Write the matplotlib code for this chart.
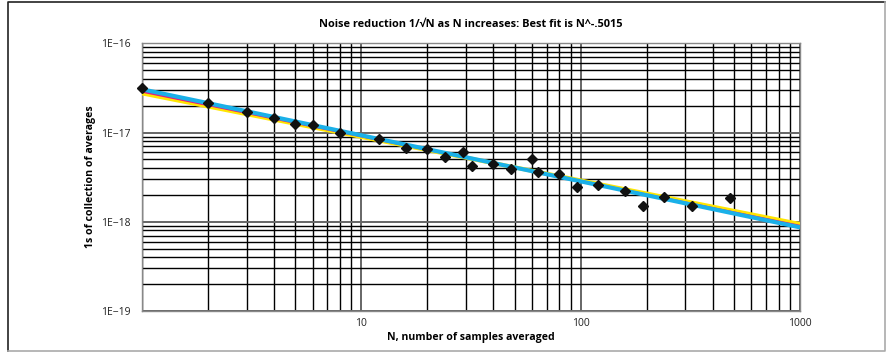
"""Noise reduction 1/sqrt(N) chart: 1-sigma of averages vs N, log-log, with fit lines."""
import math

import matplotlib
matplotlib.use("Agg")
import matplotlib.pyplot as plt
from matplotlib.lines import Line2D
from matplotlib.ticker import FixedLocator, FuncFormatter, LogLocator, NullFormatter

plt.rcParams["font.family"] = ["Open Sans", "DejaVu Sans"]

N = [1, 2, 3, 4, 5, 6, 8, 12, 16, 20, 24, 29, 32, 40, 48, 60, 64, 80,
     96, 120, 160, 192, 240, 320, 480]
SIGMA = [3.13e-17, 2.14e-17, 1.71e-17, 1.44e-17, 1.24e-17, 1.20e-17, 9.87e-18,
         8.53e-18, 6.70e-18, 6.59e-18, 5.36e-18, 6.0e-18, 4.25e-18, 4.43e-18,
         3.93e-18, 5.0e-18, 3.61e-18, 3.43e-18, 2.45e-18, 2.58e-18, 2.23e-18,
         1.50e-18, 1.88e-18, 1.50e-18, 1.86e-18]

# straight fit lines (end points at N=1 and N=1000)
FIT_N = [1, 1000]
FIT_YELLOW = [2.75e-17, 9.42e-19]
FIT_MAGENTA = [2.87e-17, 9.0e-19]
FIT_CYAN = [3.05e-17, 8.65e-19]

TITLE = "Noise reduction 1/\u221aN as N increases: Best fit is N^-.5015"

fig = plt.figure(figsize=(8.95, 3.53), dpi=100)
ax = fig.add_axes([0.1587, 0.119, 0.7352, 0.7584])

ax.set_xscale("log")
ax.set_yscale("log")
ax.set_xlim(1, 1000)
ax.set_ylim(1e-19, 1e-16)

ax.plot(FIT_N, FIT_YELLOW, color="#ffe600", lw=3.0, solid_capstyle="butt", zorder=3)
ax.plot(FIT_N, FIT_MAGENTA, color="#e8177f", lw=1.5, solid_capstyle="butt", zorder=4)
ax.plot(FIT_N, FIT_CYAN, color="#1ab0e8", lw=3.0, solid_capstyle="butt", zorder=5)
ax.plot(N, SIGMA, ls="none", marker="D", ms=5.5, color="#111111", zorder=6, clip_on=False)

# grid: every 1..9 step on both axes
ax.xaxis.set_major_locator(FixedLocator([10, 100, 1000]))
ax.xaxis.set_minor_locator(LogLocator(base=10, subs=range(1, 10), numticks=20))
ax.xaxis.set_minor_formatter(NullFormatter())
ax.yaxis.set_major_locator(FixedLocator([1e-19, 1e-18, 1e-17, 1e-16]))
ax.yaxis.set_minor_locator(LogLocator(base=10, subs=range(2, 10), numticks=20))
ax.yaxis.set_minor_formatter(NullFormatter())
ax.yaxis.set_major_formatter(FuncFormatter(lambda v, p: "1E\u2212%d" % round(-math.log10(v))))
ax.xaxis.set_major_formatter(FuncFormatter(lambda v, p: "%d" % v))

ax.grid(True, which="minor", color="#000000", lw=1.0)
ax.grid(True, which="major", color="#666666", lw=1.4)
ax.set_axisbelow(True)
ax.tick_params(which="both", length=0, labelsize=7.5, colors="#222222")
ax.tick_params(axis="y", pad=8)
ax.tick_params(axis="x", pad=5)
for s in ax.spines.values():
    s.set_color("#888888")
    s.set_linewidth(1.0)

ax.set_title(TITLE, fontsize=7.9, fontweight="bold", pad=12)
ax.set_xlabel("N, number of samples averaged", fontsize=7.6, fontweight="bold", labelpad=2)
ax.set_ylabel("1s of collection of averages", fontsize=7.6, fontweight="bold", labelpad=4)

# frame around the whole picture
fig.add_artist(Line2D([0.009, 0.009, 0.989], [0.006, 0.994, 0.994],
                      transform=fig.transFigure, color="#222222", lw=1.2))
fig.add_artist(Line2D([0.009, 0.989, 0.989], [0.006, 0.006, 0.994],
                      transform=fig.transFigure, color="#aaaaaa", lw=1.2))

fig.savefig("out.png", dpi=100)
